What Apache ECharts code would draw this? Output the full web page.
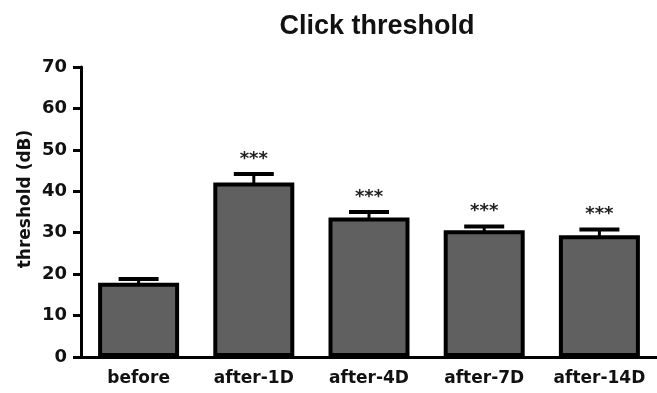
<!DOCTYPE html>
<html>
<head>
<meta charset="utf-8">
<script src="https://cdn.jsdelivr.net/npm/echarts@6/dist/echarts.min.js"></script>
<style>
html,body{margin:0;padding:0;background:#fff;}
#chart{width:657px;height:393px;}
</style>
</head>
<body>
<div id="chart"></div>
<script>
var categories = ['before', 'after-1D', 'after-4D', 'after-7D', 'after-14D'];
var means = [17.9, 42.1, 33.7, 30.6, 29.4];
var sem = [0.9, 2.1, 1.3, 0.9, 1.4];
var significance = ['', '***', '***', '***', '***'];
var yTicks = { min: 0, max: 70, interval: 10 };
var titleText = 'Click threshold';
var yName = 'threshold (dB)';

var chart = echarts.init(document.getElementById('chart'));
var errData = categories.map(function (c, i) { return [i, means[i], means[i] + sem[i], significance[i]]; });

chart.setOption({
  animation: false,
  backgroundColor: '#fff',
  title: {
    text: titleText,
    left: 372,
    top: 8,
    textAlign: 'center',
    textStyle: { fontFamily: 'Liberation Sans', fontWeight: 'bold', fontSize: 27, color: '#111' }
  },
  grid: { left: 81, right: -9, top: 67, bottom: 36 },
  xAxis: {
    type: 'category',
    data: categories,
    axisLine: { lineStyle: { color: '#000', width: 3 } },
    axisTick: { alignWithLabel: true, length: 8, lineStyle: { color: '#000', width: 2 } },
    axisLabel: { interval: 0, margin: 13, fontFamily: 'DejaVu Sans', fontWeight: 'bold', fontSize: 17, color: '#111' }
  },
  yAxis: {
    type: 'value',
    min: yTicks.min, max: yTicks.max, interval: yTicks.interval,
    splitLine: { show: false },
    axisLine: { show: true, lineStyle: { color: '#000', width: 3 } },
    axisTick: { show: true, length: 8, lineStyle: { color: '#000', width: 3 } },
    axisLabel: { margin: 14, fontFamily: 'DejaVu Sans', fontWeight: 'bold', fontSize: 18, color: '#111' }
  },
  graphic: [{
    type: 'text',
    x: 26, y: 199,
    rotation: Math.PI / 2,
    style: {
      text: yName, align: 'center', verticalAlign: 'middle',
      font: 'bold 17px "DejaVu Sans"', fill: '#111'
    }
  }],
  series: [{
    type: 'bar',
    data: means,
    barWidth: 81,
    itemStyle: { color: '#606060', borderColor: '#000', borderWidth: 4 },
    z: 2
  }, {
    type: 'custom',
    data: errData,
    z: 3,
    clip: false,
    renderItem: function (params, api) {
      var i = api.value(0);
      var base = api.coord([i, api.value(1)]);
      var top = api.coord([i, api.value(2)]);
      var half = 20;
      var children = [{
        type: 'line',
        shape: { x1: base[0], y1: base[1] + 1, x2: top[0], y2: top[1] },
        style: { stroke: '#000', lineWidth: 3 }
      }, {
        type: 'line',
        shape: { x1: top[0] - half, y1: top[1], x2: top[0] + half, y2: top[1] },
        style: { stroke: '#000', lineWidth: 4 }
      }];
      var sig = significance[params.dataIndex];
      if (sig) {
        children.push({
          type: 'text',
          x: top[0], y: top[1] - 15,
          style: { text: sig, align: 'center', verticalAlign: 'middle', font: 'bold 18px "DejaVu Sans"', fill: '#222' }
        });
      }
      return { type: 'group', children: children };
    }
  }]
});
</script>
</body>
</html>
